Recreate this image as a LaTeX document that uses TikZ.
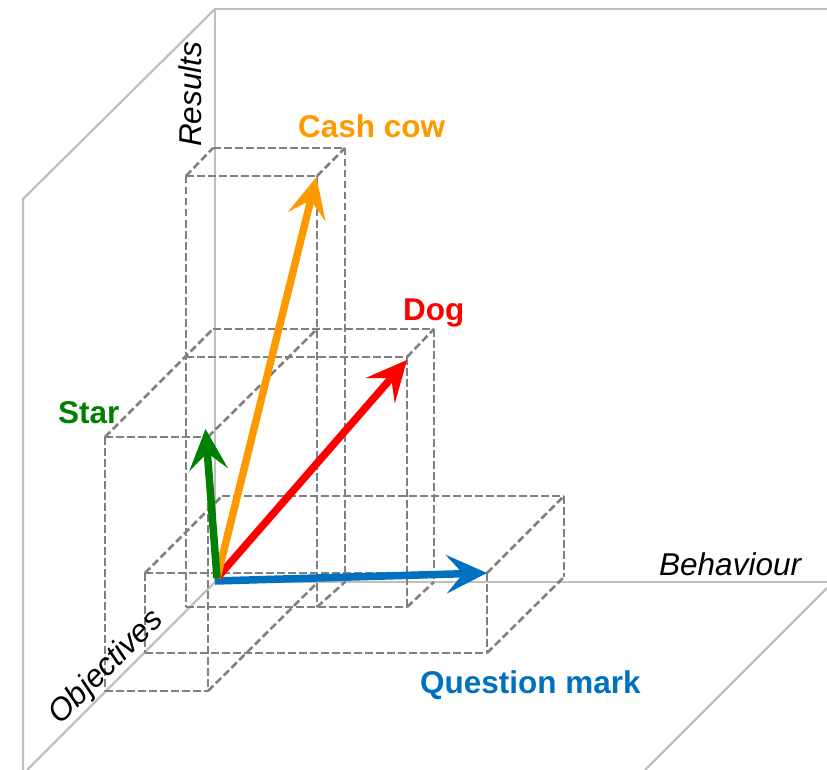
\documentclass[tikz,border=0pt]{standalone}
\usepackage{fontspec}
\setmainfont{Liberation Sans}
\usetikzlibrary{arrows.meta}
\definecolor{framegray}{RGB}{191,191,191}
\definecolor{boxgray}{RGB}{128,128,128}
\definecolor{cashorange}{RGB}{255,153,0}
\definecolor{dogred}{RGB}{255,0,0}
\definecolor{stargreen}{RGB}{0,128,0}
\definecolor{qblue}{RGB}{0,112,192}
\begin{document}
\begin{tikzpicture}[x=1pt,y=-1pt,
  frameline/.style={draw=framegray,line width=2.2pt},
  boxline/.style={draw=boxgray,line width=2.6pt,dash pattern=on 7.5pt off 3.5pt},
  vec/.style={line width=7.5pt,-{Stealth[length=41pt,width=39pt,inset=17pt,line width=0pt]}},
  lbl/.style={font=\fontsize{31.5}{36}\selectfont\bfseries,inner sep=0pt},
  axlbl/.style={font=\fontsize{31.5}{36}\selectfont\itshape,inner sep=0pt}]
\useasboundingbox (0,0) rectangle (827,770);
% frame
\coordinate (A) at (215,9);
\coordinate (O) at (215,582);
\coordinate (TR) at (827,9);
\coordinate (WL) at (23,199);
\coordinate (WB) at (23,770);
\coordinate (BR) at (827,582);
\coordinate (OB) at (27,770);
\coordinate (FR) at (827,588);
\coordinate (FB) at (645,770);
\draw[frameline] (TR) -- (A) -- (O) -- (BR);
\draw[frameline] (A) -- (WL) -- (WB);
\draw[frameline] (O) -- (OB);
\draw[frameline] (FR) -- (FB);
% dashed boxes: verticals
\draw[boxline] (105,437) -- (105,691);
\draw[boxline] (145,573) -- (145,653);
\draw[boxline] (186,176) -- (186,607);
\draw[boxline] (208,437) -- (208,691);
\draw[boxline] (317,176) -- (317,607);
\draw[boxline] (345,148) -- (345,582);
\draw[boxline] (407,357) -- (407,607);
\draw[boxline] (434,329) -- (434,582);
\draw[boxline] (487,573) -- (487,653);
\draw[boxline] (564,496) -- (564,577);
% horizontals
\draw[boxline] (213,148) -- (345,148);
\draw[boxline] (186,176) -- (317,176);
\draw[boxline] (213,329) -- (434,329);
\draw[boxline] (186,357) -- (407,357);
\draw[boxline] (105,437) -- (208,437);
\draw[boxline] (222,496) -- (564,496);
\draw[boxline] (145,573) -- (487,573);
\draw[boxline] (186,607) -- (407,607);
\draw[boxline] (145,653) -- (487,653);
\draw[boxline] (105,691) -- (208,691);
% depth edges
\draw[boxline] (186,176) -- (213,148);
\draw[boxline] (317,176) -- (345,148);
\draw[boxline] (317,607) -- (345,582);
\draw[boxline] (105,437) -- (213,329);
\draw[boxline] (407,357) -- (434,329);
\draw[boxline] (407,607) -- (434,582);
\draw[boxline] (208,437) -- (317,329);
\draw[boxline] (208,691) -- (317,583);
\draw[boxline] (145,573) -- (222,496);
\draw[boxline] (487,573) -- (564,496);
\draw[boxline] (487,653) -- (564,577);
% vectors
\coordinate (V) at (217,578);
\coordinate (Vb) at (215,581);
\coordinate (qtip) at (487,573);
\coordinate (dtip) at (407,360);
\coordinate (ctip) at (316.5,177);
\coordinate (stip) at (205.5,429);
\draw[vec,qblue] (Vb) -- (qtip);
\draw[vec,dogred] (V) -- (dtip);
\draw[vec,cashorange] (V) -- (ctip);
\draw[vec,stargreen] (V) -- (stip);
% labels
\node[lbl,text=cashorange,anchor=base west] (cashlbl) at (298,138) {Cash cow};
\node[lbl,text=dogred,anchor=base west] (doglbl) at (403,320) {Dog};
\node[lbl,text=stargreen,anchor=base west] (starlbl) at (58,423) {Star};
\node[lbl,text=qblue,anchor=base west] (qlbl) at (420,693) {Question mark};
\node[axlbl,anchor=base west] (behlbl) at (659,575) {Behaviour};
\node[axlbl,anchor=base west,rotate=90] (reslbl) at (201,147) {Results};
\node[axlbl,anchor=base,rotate=45] (objlbl) at (112.5,673.5) {Objectives};
\end{tikzpicture}
\end{document}
